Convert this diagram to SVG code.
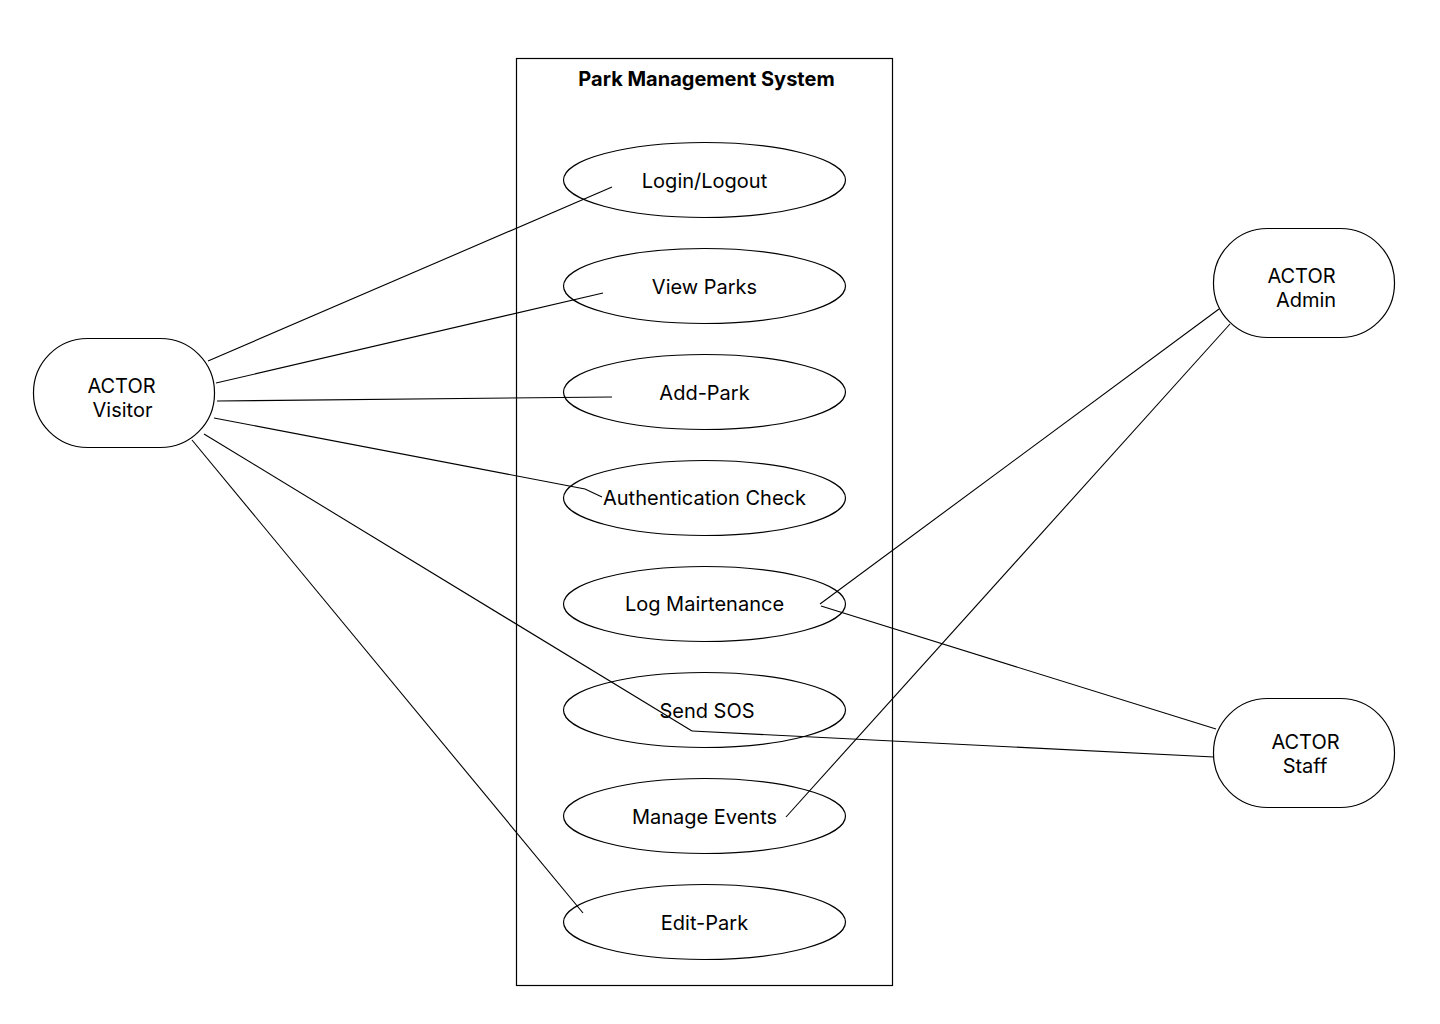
<svg xmlns="http://www.w3.org/2000/svg" width="1440" height="1024" viewBox="0 0 1440 1024">
<style>
.bg{fill:#ffffff}
.box{fill:none;stroke:#000;stroke-width:1.2}
.uc{fill:#fff;stroke:#000;stroke-width:1.2}
.actor{fill:#fff;stroke:#000;stroke-width:1.2}
.t{font-family:Inter,"Liberation Sans",sans-serif;font-size:20px;fill:#000;text-anchor:middle}
.title{font-family:Inter,"Liberation Sans",sans-serif;font-size:20px;font-weight:bold;fill:#000;text-anchor:middle}
.c{fill:none;stroke:#000;stroke-width:1.1}
</style>
<rect class="bg" x="0" y="0" width="1440" height="1024"/>
<g id="system">
<rect class="box" x="516.5" y="58.5" width="376" height="927"/>
<text class="title" x="706.5" y="86">Park Management System</text>
</g>
<g id="uc-login"><ellipse class="uc" cx="704.5" cy="180" rx="141" ry="37.5"/><text class="t" x="704.5" y="188">Login/Logout</text></g>
<g id="uc-view"><ellipse class="uc" cx="704.5" cy="286" rx="141" ry="37.5"/><text class="t" x="704.5" y="294">View Parks</text></g>
<g id="uc-add"><ellipse class="uc" cx="704.5" cy="392" rx="141" ry="37.5"/><text class="t" x="704.5" y="400">Add-Park</text></g>
<g id="uc-auth"><ellipse class="uc" cx="704.5" cy="498" rx="141" ry="37.5"/><text class="t" x="704.5" y="505">Authentication Check</text></g>
<g id="uc-log"><ellipse class="uc" cx="704.5" cy="604" rx="141" ry="37.5"/><text class="t" x="704.5" y="611">Log Mairtenance</text></g>
<g id="uc-sos"><ellipse class="uc" cx="704.5" cy="710" rx="141" ry="37.5"/><text class="t" x="707" y="718">Send SOS</text></g>
<g id="uc-events"><ellipse class="uc" cx="704.5" cy="816" rx="141" ry="37.5"/><text class="t" x="704.5" y="824">Manage Events</text></g>
<g id="uc-edit"><ellipse class="uc" cx="704.5" cy="922" rx="141" ry="37.5"/><text class="t" x="704.5" y="930">Edit-Park</text></g>
<g id="actor-visitor"><rect class="actor" x="33.5" y="338.5" width="181" height="109" rx="54" ry="54"/><text class="t" x="121.5" y="393">ACTOR</text><text class="t" x="122.5" y="417">Visitor</text></g>
<g id="actor-admin"><rect class="actor" x="1213.5" y="228.5" width="181" height="109" rx="54" ry="54"/><text class="t" x="1301.5" y="283">ACTOR</text><text class="t" x="1306" y="307">Admin</text></g>
<g id="actor-staff"><rect class="actor" x="1213.5" y="698.5" width="181" height="109" rx="54" ry="54"/><text class="t" x="1305.5" y="749">ACTOR</text><text class="t" x="1305" y="773">Staff</text></g>
<g id="connectors">
<line class="c" x1="208" y1="361" x2="612" y2="187"/>
<line class="c" x1="216" y1="383" x2="603" y2="293"/>
<line class="c" x1="217" y1="401" x2="612" y2="397"/>
<polyline class="c" points="214,418 585,489 602,497"/>
<line class="c" x1="204" y1="434" x2="692" y2="731"/>
<line class="c" x1="692" y1="731" x2="1214" y2="757"/>
<line class="c" x1="192" y1="440" x2="583" y2="913"/>
<line class="c" x1="1219" y1="309" x2="820" y2="604"/>
<line class="c" x1="1230" y1="324" x2="786" y2="817"/>
<line class="c" x1="1216" y1="729" x2="821" y2="606"/>
</g>
</svg>
